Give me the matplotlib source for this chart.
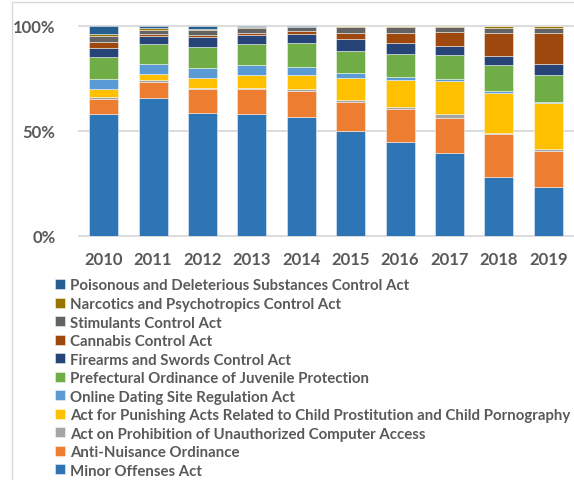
import numpy as np
import matplotlib
matplotlib.use("Agg")
import matplotlib.pyplot as plt
from matplotlib.patches import Rectangle

plt.rcParams['font.family'] = ['Lato', 'DejaVu Sans']

years = ["2010", "2011", "2012", "2013", "2014", "2015", "2016", "2017", "2018", "2019"]

# share of cases by law (percent of each year's total), bottom to top
minor_offenses = [57.8, 65.4, 58.8, 58.1, 56.8, 49.9, 44.7, 39.4, 27.9, 23.2]
anti_nuisance = [7.5, 7.5, 11.3, 11.7, 12.2, 14.1, 15.6, 16.9, 20.4, 17.1]
unauthorized_access = [0.6, 1.0, 0.6, 0.8, 1.0, 0.8, 1.0, 1.6, 0.6, 1.0]
child_prostitution = [4.0, 3.2, 4.9, 6.2, 6.7, 10.5, 13.2, 16.2, 19.0, 21.9]
online_dating = [4.8, 4.4, 4.6, 4.4, 3.5, 2.4, 1.4, 0.6, 0.8, 0.6]
juvenile_protection = [10.6, 9.7, 10.2, 10.0, 11.6, 10.8, 10.6, 11.6, 12.4, 12.9]
firearms_swords = [4.0, 3.8, 4.6, 4.3, 4.3, 5.4, 5.6, 4.4, 4.4, 4.9]
cannabis = [2.7, 0.8, 1.0, 1.3, 1.6, 2.9, 4.4, 6.5, 11.1, 15.1]
stimulants = [3.2, 2.2, 2.5, 2.4, 1.7, 3.2, 3.2, 2.7, 2.4, 2.2]
narcotics = [0.8, 0.6, 0.3, 0.3, 0.2, 0.2, 0.3, 0.2, 0.8, 1.0]
poisonous = [4.0, 1.3, 1.6, 0.6, 0.5, 0.3, 0.2, 0.2, 0.2, 0.1]

series_names = [
    "Minor Offenses Act",
    "Anti-Nuisance Ordinance",
    "Act on Prohibition of Unauthorized Computer Access",
    "Act for Punishing Acts Related to Child Prostitution and Child Pornography",
    "Online Dating Site Regulation Act",
    "Prefectural Ordinance of Juvenile Protection",
    "Firearms and Swords Control Act",
    "Cannabis Control Act",
    "Stimulants Control Act",
    "Narcotics and Psychotropics Control Act",
    "Poisonous and Deleterious Substances Control Act",
]
series_values = [minor_offenses, anti_nuisance, unauthorized_access, child_prostitution,
                 online_dating, juvenile_protection, firearms_swords, cannabis,
                 stimulants, narcotics, poisonous]
series_colors = ["#2E75B6", "#ED7D31", "#A5A5A5", "#FFC000", "#5B9BD5", "#70AD47",
                 "#264478", "#9E480E", "#636363", "#997300", "#255E91"]

text_color = "#595959"
grid_color = "#D9D9D9"

W, H = 574, 481
fig = plt.figure(figsize=(W / 100, H / 100), dpi=100)

# chart frame
fig.patches.append(Rectangle((12 / W, -0.1), 1.2, 1 - 3 / H + 0.1, transform=fig.transFigure,
                             fill=False, edgecolor=grid_color, linewidth=1.0))

ax = fig.add_axes([79 / W, (H - 236.7) / H, 494 / W, 210 / H])

data = np.array(series_values, dtype=float)
data = data / data.sum(axis=0) * 100.0  # 100% stacked

x = np.arange(len(years))
bottom = np.zeros(len(years))
handles = []
for name, vals, col in zip(series_names, data, series_colors):
    b = ax.bar(x, vals, bottom=bottom, width=0.59, color=col,
               edgecolor=(1, 1, 1, 0.45), linewidth=0.7, label=name, zorder=3)
    handles.append(b)
    bottom += vals

ax.set_xlim(-0.5, len(years) - 0.5)
ax.set_ylim(0, 100)
for yv in (0, 50, 100):
    ax.axhline(yv, color=grid_color, linewidth=1.3, zorder=1, clip_on=False)

for s in ax.spines.values():
    s.set_visible(False)

ax.set_yticks([0, 50, 100])
ax.set_yticklabels(["0%", "50%", "100%"])
ax.set_xticks(x)
ax.set_xticklabels(years)
ax.tick_params(axis='y', length=0, pad=17, labelsize=12, labelcolor=text_color)
ax.tick_params(axis='x', length=0, pad=11, labelsize=12, labelcolor=text_color)
for lab in ax.get_xticklabels() + ax.get_yticklabels():
    lab.set_fontweight('bold')

leg = fig.legend(handles[::-1], series_names[::-1], loc='upper left',
                 bbox_to_anchor=(55 / W, 1 - 279.5 / H), frameon=False,
                 prop={'size': 10.82, 'weight': 'bold'},
                 handlelength=0.66, handleheight=0.66, handletextpad=0.33,
                 labelspacing=0.30, borderpad=0, borderaxespad=0)
for t in leg.get_texts():
    t.set_color(text_color)

fig.savefig("out.png", dpi=100)
